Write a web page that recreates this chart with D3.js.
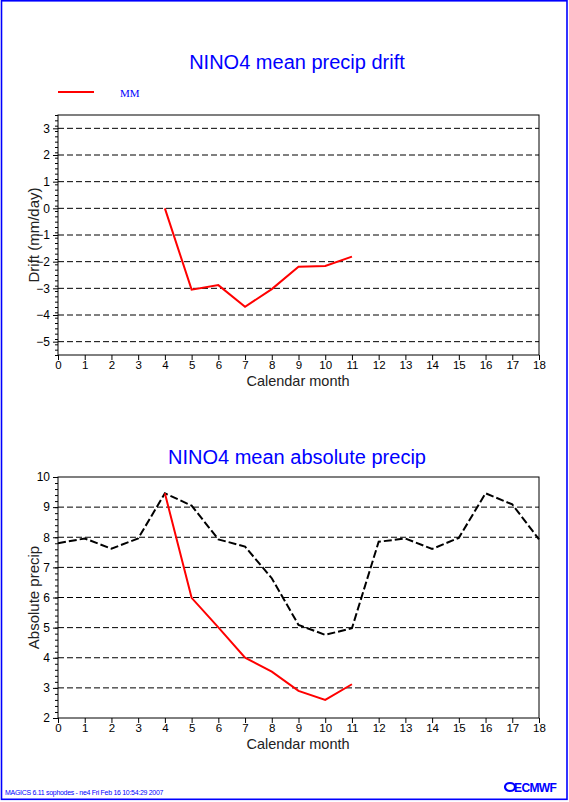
<!DOCTYPE html>
<html>
<head>
<meta charset="utf-8">
<script src="https://cdn.jsdelivr.net/npm/d3@7"></script>
<style>
  html, body { margin: 0; padding: 0; background: #fff; }
  svg { display: block; font-family: "Liberation Sans", Arial, Helvetica, sans-serif; }
</style>
</head>
<body>
<svg id="chart" width="569" height="802"></svg>
<script>
// ---- Data ----
const months = d3.range(0, 19);               // x tick labels 0..18
const driftMonths = [4, 5, 6, 7, 8, 9, 10, 11];
const driftMM = [0, -3.05, -2.88, -3.69, -3.03, -2.19, -2.16, -1.81];
const absMonths = [4, 5, 6, 7, 8, 9, 10, 11];
const absMM = [9.46, 5.99, 5.01, 4.0, 3.54, 2.9, 2.6, 3.12];
const climMonths = d3.range(0, 19);
const climValues = [7.8, 7.96, 7.62, 7.96, 9.46, 9.05, 7.93, 7.69, 6.64, 5.09, 4.76, 4.98, 7.85, 7.96, 7.61, 7.98, 9.46, 9.09, 7.93];
const driftTicks = [-5, -4, -3, -2, -1, 0, 1, 2, 3];
const absTicks = [2, 3, 4, 5, 6, 7, 8, 9, 10];

const svg = d3.select("#chart");
const BLUE = "#0000ff";

// page border
svg.append("rect").attr("x", 1.5).attr("y", 0.8).attr("width", 565.5).attr("height", 798.5)
  .attr("fill", "none").attr("stroke", BLUE).attr("stroke-width", 1.6);

const x0 = 58, x1 = 539;

function panel(opts) {
  const x = d3.scaleLinear().domain([0, 18]).range([x0, x1]);
  const y = d3.scaleLinear().domain(opts.ydom).range([opts.bottom, opts.top]);
  const g = svg.append("g");

  // title
  g.append("text").attr("x", 297).attr("y", opts.titleY).attr("text-anchor", "middle")
    .attr("fill", BLUE).style("font-size", "20px").text(opts.title);

  // grid
  g.append("g").selectAll("line").data(opts.grid).join("line")
    .attr("x1", x0).attr("x2", x1).attr("y1", d => y(d)).attr("y2", d => y(d))
    .attr("stroke", "#000").attr("stroke-width", 1).attr("stroke-dasharray", "6,3");

  // frame
  g.append("rect").attr("x", x0).attr("y", opts.top).attr("width", x1 - x0).attr("height", opts.bottom - opts.top)
    .attr("fill", "none").attr("stroke", "#000").attr("stroke-width", 1);

  // y minor ticks
  const minor = [];
  for (let v = opts.ydom[0]; v <= opts.ydom[1] + 1e-9; v += 0.2) minor.push(+v.toFixed(2));
  g.append("g").attr("transform", `translate(${x0},0)`)
    .call(d3.axisLeft(y).tickValues(minor).tickSize(3).tickFormat(""))
    .call(s => s.select(".domain").remove());
  // y major ticks
  g.append("g").attr("transform", `translate(${x0},0)`)
    .call(d3.axisLeft(y).tickValues(opts.yticks).tickSize(5).tickPadding(3).tickFormat(d3.format("d")))
    .call(s => s.select(".domain").remove())
    .call(s => s.selectAll("text").style("font-size", "12px").attr("fill", "#000")
      .style("font-family", "'Liberation Sans', Arial, sans-serif"));

  // x axis
  g.append("g").attr("transform", `translate(0,${opts.bottom})`)
    .call(d3.axisBottom(x).tickValues(months).tickSize(5).tickPadding(1).tickFormat(d3.format("d")))
    .call(s => s.select(".domain").remove())
    .call(s => s.selectAll("text").style("font-size", "11.5px").attr("fill", "#000")
      .style("font-family", "'Liberation Sans', Arial, sans-serif"));

  // axis titles
  g.append("text").attr("x", 298).attr("y", opts.bottom + 31).attr("text-anchor", "middle")
    .style("font-size", "14.5px").attr("fill", "#222").text("Calendar month");
  g.append("text").attr("transform", `translate(39,${(opts.top + opts.bottom) / 2}) rotate(-90)`)
    .attr("text-anchor", "middle").style("font-size", "15px").attr("fill", "#222").text(opts.ylabel);

  return { x, y, g };
}

// ---- Top panel ----
const p1 = panel({ title: "NINO4 mean precip drift", titleY: 69, top: 115, bottom: 355,
  ydom: [-5.5, 3.5], yticks: driftTicks, grid: driftTicks, ylabel: "Drift (mm/day)" });
const line1 = d3.line().x(d => p1.x(d[0])).y(d => p1.y(d[1]));
p1.g.append("path").datum(d3.zip(driftMonths, driftMM)).attr("d", line1)
  .attr("fill", "none").attr("stroke", "#ff0000").attr("stroke-width", 2);

// legend
svg.append("line").attr("x1", 58).attr("x2", 94).attr("y1", 92).attr("y2", 92)
  .attr("stroke", "#ff0000").attr("stroke-width", 2);
svg.append("text").attr("x", 120).attr("y", 97).attr("fill", BLUE).style("font-size", "11px")
  .style("font-family", "'Liberation Serif', 'Times New Roman', serif").text("MM");

// ---- Bottom panel ----
const p2 = panel({ title: "NINO4 mean absolute precip", titleY: 464, top: 477, bottom: 718,
  ydom: [2, 10], yticks: absTicks, grid: [3, 4, 5, 6, 7, 8, 9], ylabel: "Absolute precip" });
const line2 = d3.line().x(d => p2.x(d[0])).y(d => p2.y(d[1]));
p2.g.append("path").datum(d3.zip(climMonths, climValues)).attr("d", line2)
  .attr("fill", "none").attr("stroke", "#000").attr("stroke-width", 2).attr("stroke-dasharray", "8,3");
p2.g.append("path").datum(d3.zip(absMonths, absMM)).attr("d", line2)
  .attr("fill", "none").attr("stroke", "#ff0000").attr("stroke-width", 2);

// footer
svg.append("text").attr("x", 5).attr("y", 795).attr("fill", BLUE).style("font-size", "7px")
  .attr("letter-spacing", -0.3).text("MAGICS 6.11 sophodes - ne4 Fri Feb 16 10:54:29 2007");
const logo = svg.append("g").attr("transform", "translate(505,787)");
logo.append("ellipse").attr("cx", 5).attr("cy", 0).attr("rx", 5).attr("ry", 4)
  .attr("fill", "none").attr("stroke", BLUE).attr("stroke-width", 2.2);
logo.append("text").attr("x", 9).attr("y", 4.5).attr("fill", BLUE).style("font-size", "12px")
  .style("font-weight", "bold").attr("letter-spacing", -0.6).text("ECMWF");
</script>
</body>
</html>
